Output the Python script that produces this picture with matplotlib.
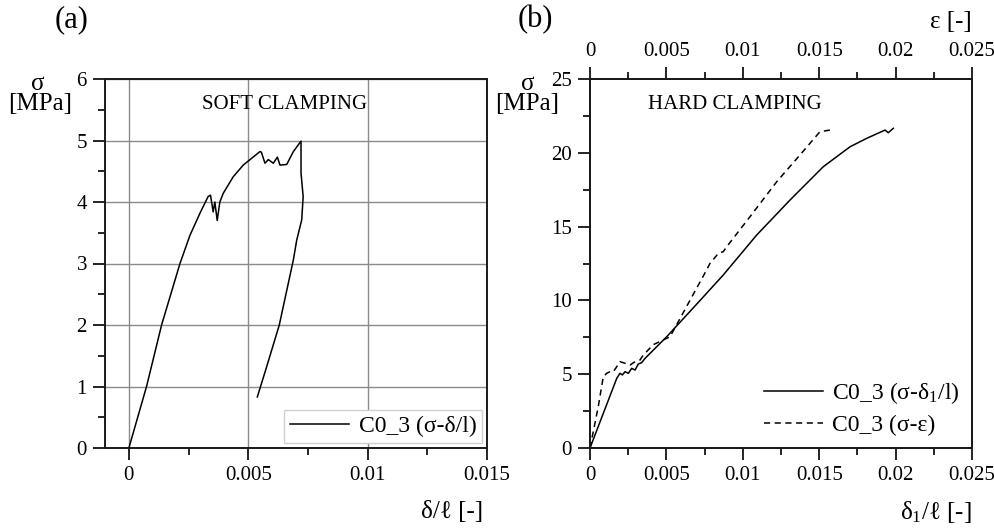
import matplotlib
matplotlib.use('Agg')
from matplotlib import pyplot as plt
from matplotlib.ticker import MultipleLocator

plt.rcParams['font.family'] = ['Liberation Serif', 'DejaVu Serif']
plt.rcParams['mathtext.fontset'] = 'custom'
plt.rcParams['mathtext.rm'] = 'Liberation Serif'
plt.rcParams['mathtext.it'] = 'Liberation Serif:italic'

# (a) soft clamping, sigma vs delta/l
soft_x = [0, 0.00074, 0.00137, 0.00214, 0.00256, 0.00298, 0.00332,
          0.00342, 0.00353, 0.0036, 0.0037, 0.00381, 0.00395, 0.00437, 0.00479, 0.00514,
          0.00549, 0.00555, 0.0057, 0.00584, 0.00605, 0.00622, 0.00633, 0.00661, 0.00689,
          0.00721, 0.00721, 0.0073, 0.00724, 0.00703, 0.00689, 0.0063, 0.00577, 0.00538]
soft_y = [0, 1.0, 2.0, 3.0, 3.46, 3.82, 4.09,
          4.11, 3.84, 4.0, 3.70, 4.0, 4.14, 4.41, 4.6, 4.71,
          4.82, 4.81, 4.63, 4.69, 4.63, 4.73, 4.6, 4.61, 4.82,
          4.99, 4.47, 4.09, 3.71, 3.38, 3.06, 2.0, 1.32, 0.83]

# (b) hard clamping, sigma vs delta1/l
hard_x = [0, 0.00175, 0.00196, 0.00212, 0.00229, 0.00251, 0.00273, 0.00295, 0.00316,
          0.00338, 0.0036, 0.00502, 0.00703, 0.00872, 0.01091, 0.01309, 0.01527, 0.01702,
          0.01811, 0.01931, 0.01952, 0.01985]
hard_y = [0, 4.72, 5.06, 4.95, 5.17, 5.06, 5.40, 5.28, 5.69,
          5.78, 6.07, 7.54, 9.8, 11.72, 14.43, 16.8, 19.06, 20.41,
          20.98, 21.54, 21.36, 21.66]

# (b) hard clamping, sigma vs epsilon (top axis)
eps_x = [0, 0.00054, 0.00087, 0.00109, 0.00131, 0.00153, 0.00175, 0.00196, 0.00229,
         0.00262, 0.00295, 0.00327, 0.00349, 0.00414, 0.00524, 0.00745, 0.00785,
         0.0084, 0.00872, 0.00895, 0.01047, 0.01222, 0.01374, 0.01505, 0.0157]
eps_y = [0, 2.8, 4.83, 5.06, 5.17, 5.17, 5.51, 5.85, 5.74,
         5.62, 5.85, 5.96, 6.3, 7.0, 7.54, 11.72, 12.5,
         13.19, 13.3, 13.64, 15.67, 18.04, 19.85, 21.43, 21.54]

W, H = 995, 528
fig = plt.figure(figsize=(9.95, 5.28), dpi=100)


def px(x, y):
    return x / W, 1 - y / H


def style_ticks(ax):
    ax.tick_params(which='major', direction='out', length=8.5, width=1.2, labelsize=15, pad=4.5)
    ax.tick_params(which='minor', direction='out', length=5, width=1.2)
    for s in ax.spines.values():
        s.set_linewidth(1.4)
        s.set_color('#1a1a1a')


# ---- panel (a)
ax1 = fig.add_axes([105 / W, 80 / H, 382 / W, 369 / H])
ax1.plot(soft_x, soft_y, color='black', linewidth=1.1, label='C0_3 (σ-δ/l)')
ax1.set_xlim(-0.001, 0.015)
ax1.set_ylim(0, 6)
ax1.xaxis.set_minor_locator(MultipleLocator(0.0025))
ax1.yaxis.set_major_locator(MultipleLocator(1))
ax1.yaxis.set_minor_locator(MultipleLocator(0.5))
ax1.set_xticks([0, 0.005, 0.01, 0.015])
ax1.set_xticklabels(['0', '0.005', '0.01', '0.015'])
ax1.grid(True, which='major', color='#8a8a8a', linewidth=1.0)
style_ticks(ax1)
ax1.text(0.47, 0.93, 'SOFT CLAMPING', transform=ax1.transAxes, ha='center', va='center', fontsize=15)
leg1 = ax1.legend(loc='lower right', fontsize=17, handlelength=2.5, borderaxespad=0.2,
                  fancybox=False, framealpha=1, edgecolor='#d0d0d0', borderpad=0.25,
                  handletextpad=0.4)
leg1.get_frame().set_linewidth(1.0)

# ---- panel (b)
ax2 = fig.add_axes([590 / W, 80 / H, 382 / W, 369 / H])
l1, = ax2.plot(hard_x, hard_y, color='black', linewidth=1.1, label='C0_3 (σ-δ$_\\mathrm{1}$/l)')
ax2.set_xlim(0, 0.025)
ax2.set_ylim(0, 25)
ax2.xaxis.set_minor_locator(MultipleLocator(0.0025))
ax2.yaxis.set_major_locator(MultipleLocator(5))
ax2.yaxis.set_minor_locator(MultipleLocator(2.5))
ax2.set_xticks([0, 0.005, 0.01, 0.015, 0.02, 0.025])
ax2.set_xticklabels(['0', '0.005', '0.01', '0.015', '0.02', '0.025'])
style_ticks(ax2)

ax2t = ax2.twiny()
l2, = ax2t.plot(eps_x, eps_y, color='black', linewidth=1.1, linestyle=(0, (4, 3)), label='C0_3 (σ-ε)')
ax2t.set_xlim(0, 0.025)
ax2t.xaxis.set_minor_locator(MultipleLocator(0.0025))
ax2t.set_xticks([0, 0.005, 0.01, 0.015, 0.02, 0.025])
ax2t.set_xticklabels(['0', '0.005', '0.01', '0.015', '0.02', '0.025'])
style_ticks(ax2t)

ax2.text(0.38, 0.93, 'HARD CLAMPING', transform=ax2.transAxes, ha='center', va='center', fontsize=15)
ax2.legend(handles=[l1, l2], loc='lower right', fontsize=17, handlelength=2.5,
           frameon=False, borderaxespad=0.1, labelspacing=0.35, handletextpad=0.4)

# ---- labels
fig.text(*px(72, 20), '(a)', fontsize=22, ha='center', va='center')
fig.text(*px(535, 20), '(b)', fontsize=22, ha='center', va='center')
fig.text(*px(38, 84), 'σ', fontsize=18, ha='center', va='center')
fig.text(*px(40, 104), '[MPa]', fontsize=18, ha='center', va='center')
fig.text(*px(528, 84), 'σ', fontsize=18, ha='center', va='center')
fig.text(*px(527, 104), '[MPa]', fontsize=18, ha='center', va='center')
fig.text(*px(483, 512), 'δ/ℓ [-]', fontsize=18, ha='right', va='center')
fig.text(*px(972, 512), 'δ$_\\mathrm{1}$/ℓ [-]', fontsize=18, ha='right', va='center')
fig.text(*px(972, 22), 'ε [-]', fontsize=18, ha='right', va='center')

fig.savefig('out.png', dpi=100)
